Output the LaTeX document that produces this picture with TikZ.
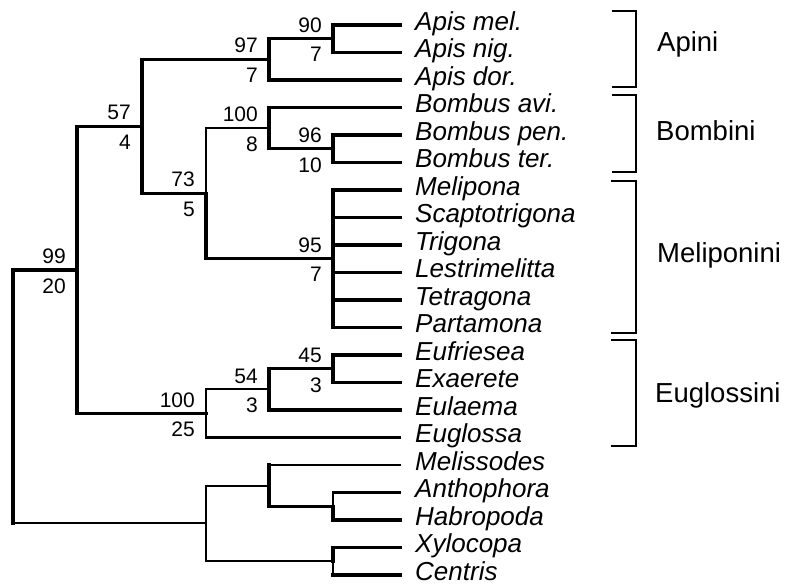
\documentclass[tikz,border=0pt]{standalone}
\usepackage{fontspec}
\setmainfont{Liberation Sans}
\usetikzlibrary{calc}
\begin{document}
\begin{tikzpicture}[x=1pt,y=-1pt,
  thk/.style={line width=3.2pt,line cap=rect},
  thn/.style={line width=2.1pt,line cap=rect},
  brk/.style={line width=1.7pt},
  taxon/.style={anchor=base west,inner sep=0pt,font=\fontsize{26}{26}\selectfont\itshape},
  grp/.style={anchor=base west,inner sep=0pt,font=\fontsize{27.5}{27.5}\selectfont},
  supa/.style={anchor=south east,inner sep=0pt,font=\fontsize{21}{21}\selectfont},
  supb/.style={anchor=north east,inner sep=0pt,font=\fontsize{21}{21}\selectfont}]
\useasboundingbox (0,0) rectangle (787,584);
% leaf ends
\foreach \i/\n in {1/Apis mel.,2/Apis nig.,3/Apis dor.,4/Bombus avi.,5/Bombus pen.,6/Bombus ter.,7/Melipona,8/Scaptotrigona,9/Trigona,10/Lestrimelitta,11/Tetragona,12/Partamona,13/Eufriesea,14/Exaerete,15/Eulaema,16/Euglossa,17/Melissodes,18/Anthophora,19/Habropoda,20/Xylocopa,21/Centris}{
  \coordinate (L\i) at (400,{25+27.5*(\i-1)});
  \node[taxon] (T\i) at (415,{30+27.5*(\i-1)}) {\n};
}
% internal nodes
\coordinate (n90) at (333,38.75);
\coordinate (n97) at (269,59.4);
\coordinate (n96) at (333,148.75);
\coordinate (n100b) at (269,128.1);
\coordinate (n95) at (333,258.75);
\coordinate (n73) at (206,193.4);
\coordinate (n57) at (142,126.4);
\coordinate (n45) at (333,368.75);
\coordinate (n54) at (269,389.4);
\coordinate (n100e) at (206,413.4);
\coordinate (n99) at (77,270);
\coordinate (nAH) at (333,506.25);
\coordinate (nMel) at (269,485.6);
\coordinate (nXC) at (333,561.25);
\coordinate (nOut) at (206,523.4);
\coordinate (root) at (13,396.7);
% Apini
\draw[thk] (L1) -| (n90) |- (L2);
\draw[thk] (n90) -| (n97) |- (L3);
% Bombini
\draw[thk] (L5) -| (n96) |- (L6);
\draw[thk] (L4) -| (n100b) |- (n96);
% Meliponini
\draw[thk] (L7) -| (n95) |- (L12);
\foreach \i in {8,...,11} \draw[thk] (n95 |- L\i) -- (L\i);
\draw[thk] (n73) |- (n95);
\draw[thn] (n73) |- (n100b);
\draw[thk] (n97) -| (n57) |- (n73);
% Euglossini
\draw[thk] (L13) -| (n45) |- (L14);
\draw[thk] (n45) -| (n54) |- (L15);
\draw[thn] (n54) -| (n100e) |- (L16);
% upper clade
\draw[thk] (n57) -| (n99) |- (n100e);
% outgroups
\draw[thn] (L18) -| (nAH);
\draw[thk] (nAH) |- (L19);
\draw[thk] (nAH -| nMel) -- (nAH);
\draw[thn] (L17) -- (L17 -| nMel);
\draw[thk] (L17 -| nMel) |- (nAH);
\draw[thk] (L20) -| (nXC);
\draw[thn] (nXC) -- (nXC |- L21);
\draw[thk] (nXC |- L21) -- (L21);
\draw[thn] (nMel) -| (nOut) |- (nXC);
% root
\draw[thk] (n99) -| (root |- n99) -- (root);
\draw[thk] (root) -- (root |- nOut);
\draw[thn] (root |- nOut) -- (nOut);
% support values
\foreach \nm/\a/\b in {n99/99/20,n57/57/4,n97/97/7,n90/90/7,n100b/100/8,n96/96/10,n73/73/5,n95/95/7,n45/45/3,n54/54/3,n100e/100/25}{
  \node[supa] (a\nm) at ($(\nm)+(-11,-6)$) {\a};
  \node[supb] (b\nm) at ($(\nm)+(-11,8.5)$) {\b};
}
% brackets
\coordinate (bA1) at (612,11);  \coordinate (bA2) at (612,87);
\coordinate (bB1) at (612,95);  \coordinate (bB2) at (612,172);
\coordinate (bM1) at (611,181); \coordinate (bM2) at (611,333);
\coordinate (bE1) at (611,340); \coordinate (bE2) at (611,446);
\draw[brk] (bA1) -- ++(24,0) |- (bA2);
\draw[brk] (bB1) -- ++(24,0) |- (bB2);
\draw[brk] (bM1) -- ++(25,0) |- (bM2);
\draw[brk] (bE1) -- ++(25,0) |- (bE2);
\node[grp] (gA) at (657,51) {Apini};
\node[grp] (gB) at (656,140) {Bombini};
\node[grp] (gM) at (657,262) {Meliponini};
\node[grp] (gE) at (655,402) {Euglossini};
\end{tikzpicture}
\end{document}
